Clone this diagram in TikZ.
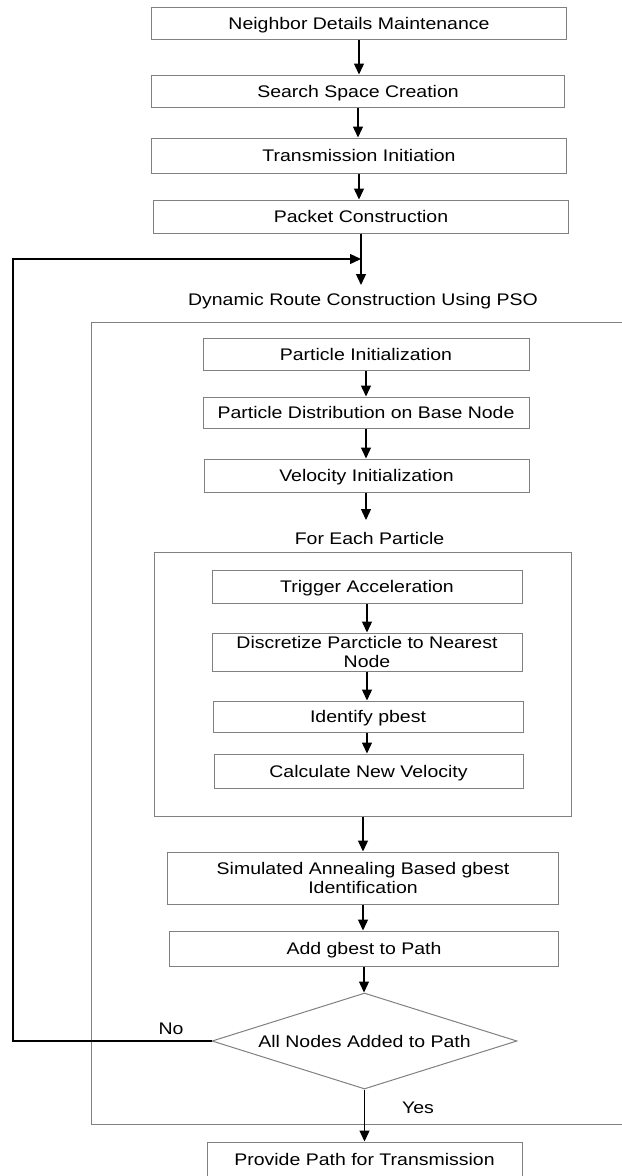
\documentclass[tikz,border=0pt]{standalone}
\usepackage{fontspec}
\usetikzlibrary{arrows.meta,shapes.geometric}
\newfontfamily\lblfont{Liberation Sans}[FakeStretch=1.16]
\definecolor{boxgray}{RGB}{128,128,128}
\begin{document}
\begin{tikzpicture}[x=1bp,y=-1bp,
  txt/.style={font=\lblfont\fontsize{16.8bp}{18.3bp}\selectfont, text=black, inner sep=0pt, align=center},
  oneline/.style={text height=12bp, text depth=0pt},
  stepbox/.style 2 args={txt, draw=boxgray, line width=1bp, minimum width=#1, minimum height=#2},
  groupbox/.style 2 args={draw=boxgray, line width=1bp, minimum width=#1, minimum height=#2, inner sep=0pt},
  arr/.style={draw=black, line width=1.3bp, -{Triangle[length=11bp,width=10bp]}}]
\useasboundingbox (0,0) rectangle (622,1176);

% top chain
\node[stepbox={414bp}{32bp}, oneline] (b1) at (359,23) {Neighbor Details Maintenance};
\node[stepbox={412bp}{32bp}, oneline] (b2) at (358,91) {Search Space Creation};
\node[stepbox={414bp}{35bp}, oneline] (b3) at (359,155.5) {Transmission Initiation};
\node[stepbox={414bp}{33bp}, oneline] (b4) at (361,216.5) {Packet Construction};

\coordinate (join) at (361,259);
\coordinate (psoin) at (361,285);
\node[txt, oneline] (ptitle) at (363,299) {Dynamic Route Construction Using PSO};

% outer PSO frame (open on the right)
\coordinate (otr) at (622,322);
\coordinate (otl) at (91,322);
\coordinate (obl) at (91,1124);
\coordinate (obr) at (622,1124);
\draw[boxgray, line width=1bp] (otr) -- (otl) -- (obl) -- (obr);

\node[stepbox={326bp}{32bp}, oneline] (p1) at (366,354) {Particle Initialization};
\node[stepbox={326bp}{31bp}, oneline] (p2) at (366,412.5) {Particle Distribution on Base Node};
\node[stepbox={325bp}{33bp}, oneline] (p3) at (366.5,475.5) {Velocity Initialization};
\coordinate (fein) at (366,520);
\node[txt, oneline] (fetitle) at (369.5,538) {For Each Particle};

% inner loop box
\node[groupbox={416bp}{264bp}] (inner) at (363,684) {};
\node[stepbox={310bp}{33bp}, oneline] (q1) at (367,586.5) {Trigger Acceleration};
\node[stepbox={310bp}{38bp}] (q2) at (367,652) {Discretize Parcticle to Nearest\\Node};
\node[stepbox={310bp}{31bp}, oneline] (q3) at (368,716.5) {Identify pbest};
\node[stepbox={309bp}{34bp}, oneline] (q4) at (368.5,771) {Calculate New Velocity};

\node[stepbox={390bp}{52bp}] (sa) at (363,878) {Simulated Annealing Based gbest\\Identification};
\node[stepbox={388bp}{35bp}, oneline] (ag) at (364,948.5) {Add gbest to Path};
\node[txt, oneline, shape=diamond, draw=boxgray, line width=1bp, minimum width=305bp, minimum height=96bp, aspect=3.18] (dec) at (364.5,1041) {All Nodes Added to Path};
\node[stepbox={315bp}{35bp}, oneline] (pp) at (364.5,1159.5) {Provide Path for Transmission};

\node[txt, oneline] (nolbl) at (171,1028) {No};
\node[txt, oneline] (yeslbl) at (418,1107) {Yes};

% connectors
\draw[arr] (b1.south) -- (b1.south |- b2.north);
\draw[arr] (b2.south) -- (b2.south |- b3.north);
\draw[arr] (b3.south) -- (b3.south |- b4.north);
\draw[arr] (b4.south) -- (psoin);

\draw[arr] (p1.south) -- (p1.south |- p2.north);
\draw[arr] (p2.south) -- (p2.south |- p3.north);
\draw[arr] (p3.south -| fein) -- (fein);

\draw[arr] (q1.south) -- (q1.south |- q2.north);
\draw[arr] (q2.south) -- (q2.south |- q3.north);
\draw[arr] (q3.south -| q2.south) -- (q2.south |- q4.north);

\draw[arr] (inner.south) -- (inner.south |- sa.north);
\draw[arr] (sa.south) -- (sa.south |- ag.north);
\draw[arr] (ag.south) -- (ag.south |- dec.north);
\draw[arr] (dec.south) -- (dec.south |- pp.north);

\coordinate (fbb) at (13,1041);
\coordinate (fbt) at (13,259);
\draw[arr] (dec.west) -- (fbb) -- (fbt) -- (join);
\end{tikzpicture}
\end{document}
